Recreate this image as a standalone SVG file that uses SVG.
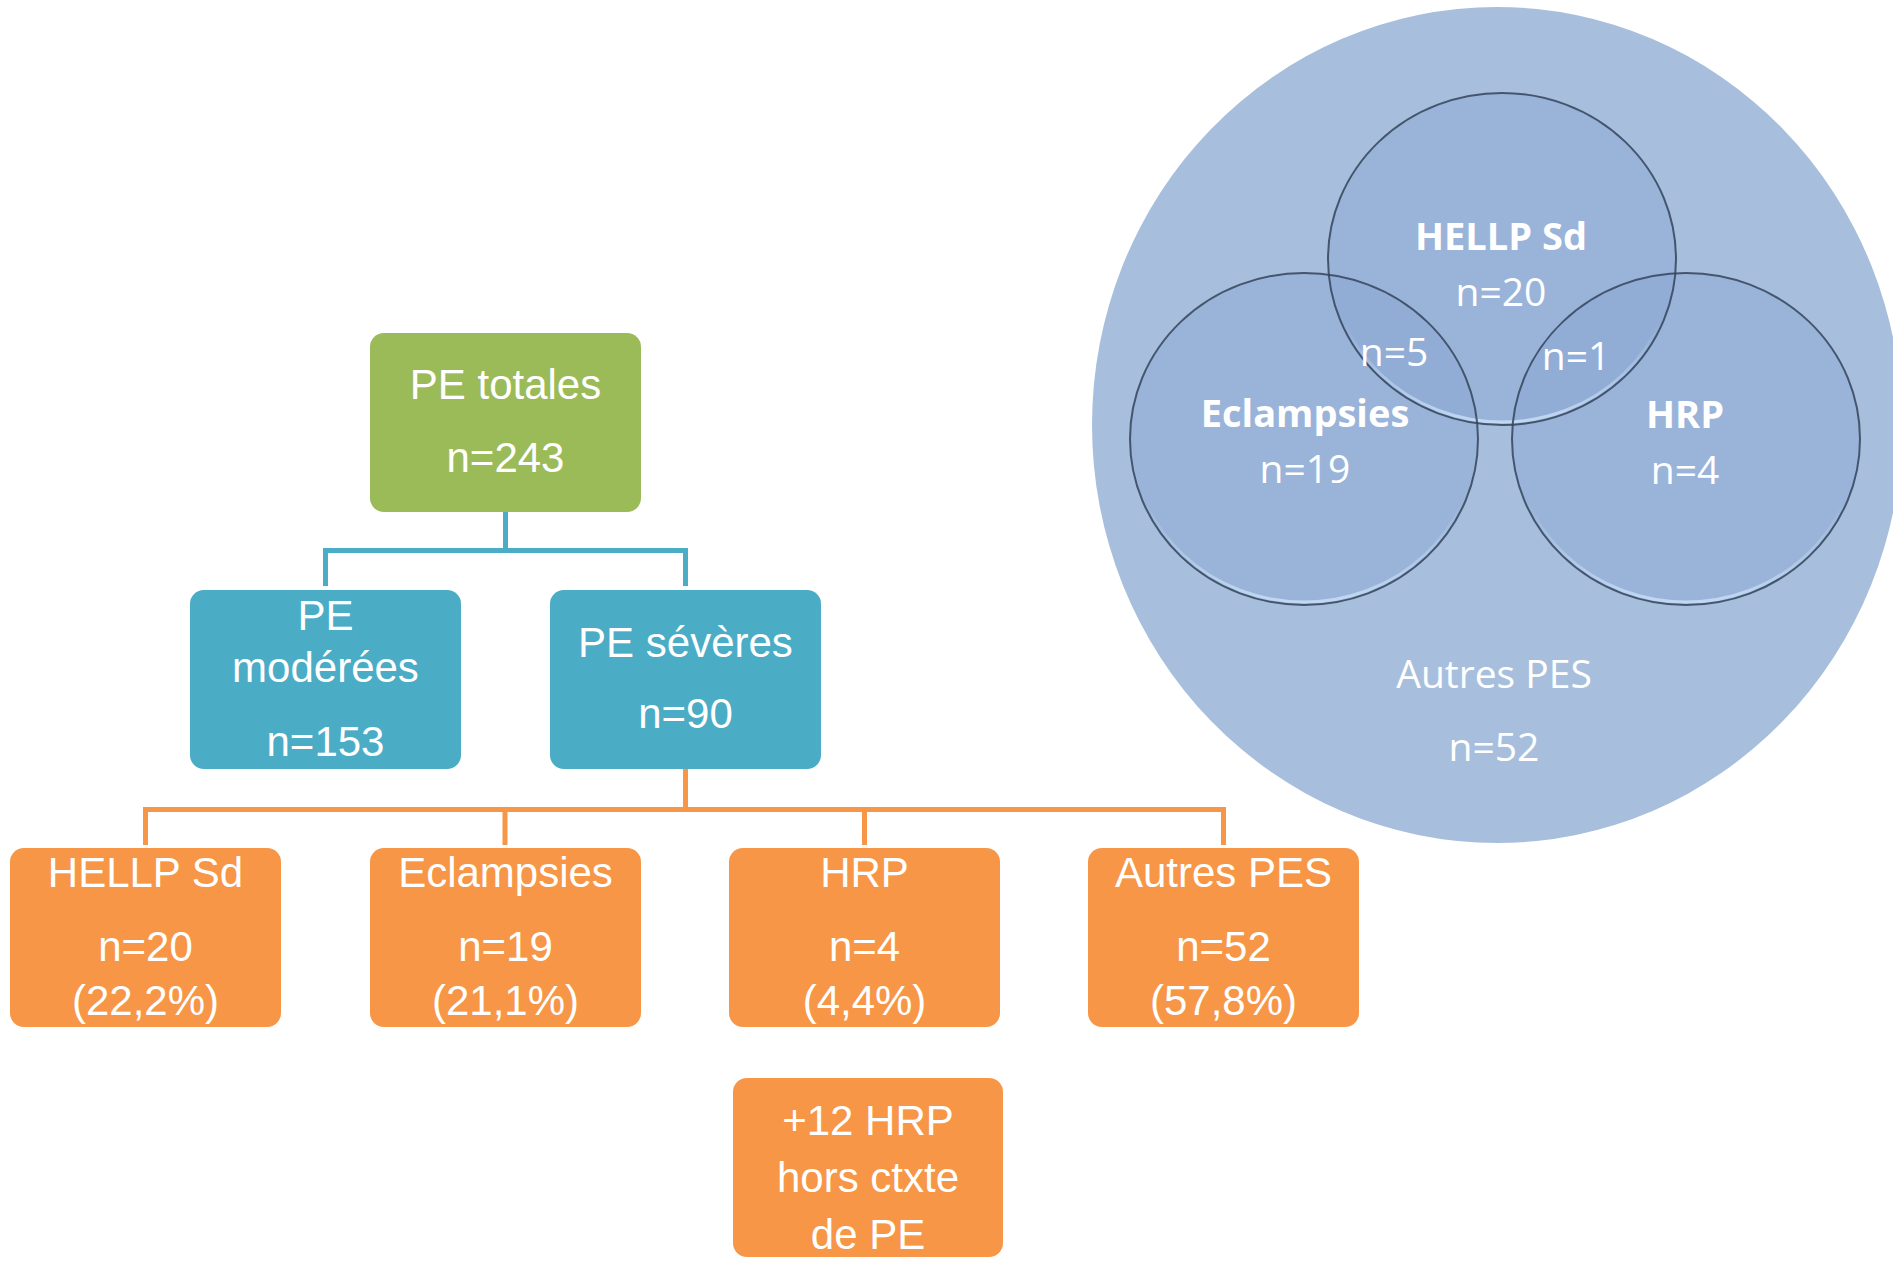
<svg xmlns="http://www.w3.org/2000/svg" width="1893" height="1261" viewBox="0 0 1893 1261">
<defs>
<style>
.t{font-family:"Liberation Sans",Arial,sans-serif;font-size:42px;fill:#fff;text-anchor:middle}
.v{font-family:"Open Sans","Noto Sans",sans-serif;font-size:39px;fill:#fff;text-anchor:middle}
.vb{font-family:"Open Sans","Noto Sans",sans-serif;font-size:38px;font-weight:bold;fill:#fff;text-anchor:middle}
.green{fill:#9BBB59}
.teal{fill:#4BACC6}
.orange{fill:#F79646}
.ct{fill:none;stroke:#4BACC6;stroke-width:5}
.co{fill:none;stroke:#F79646;stroke-width:5}
.sc{fill:#7FA0CF;fill-opacity:0.32}
.edge{fill:none;stroke:#34445A;stroke-width:2;stroke-opacity:0.85}
.hl{fill:none;stroke:url(#hlg);stroke-width:3}
</style>
<linearGradient id="hlg" x1="0" y1="0" x2="0" y2="1">
<stop offset="0" stop-color="#C6DCF5" stop-opacity="0"/>
<stop offset="0.7" stop-color="#C6DCF5" stop-opacity="0"/>
<stop offset="1" stop-color="#C6DCF5" stop-opacity="0.9"/>
</linearGradient>
</defs>
<rect width="1893" height="1261" fill="#fff"/>

<g id="venn">
<ellipse id="venn-outer" cx="1497" cy="425" rx="405" ry="418" fill="#A7BFDD"/>
<g id="venn-hellp">
<ellipse class="sc" cx="1502" cy="259" rx="174" ry="166"/>
</g>
<g id="venn-eclampsies">
<ellipse class="sc" cx="1304" cy="439" rx="174" ry="166"/>
</g>
<g id="venn-hrp">
<ellipse class="sc" cx="1686" cy="439" rx="174" ry="166"/>
</g>
<ellipse class="hl" cx="1502" cy="258" rx="172" ry="164"/>
<ellipse class="hl" cx="1304" cy="438" rx="172" ry="164"/>
<ellipse class="hl" cx="1686" cy="438" rx="172" ry="164"/>
<ellipse class="edge" cx="1502" cy="259" rx="174" ry="166"/>
<ellipse class="edge" cx="1304" cy="439" rx="174" ry="166"/>
<ellipse class="edge" cx="1686" cy="439" rx="174" ry="166"/>
<text class="vb" x="1501" y="250">HELLP Sd</text>
<text class="v" x="1501" y="306">n=20</text>
<text class="v" x="1394" y="366">n=5</text>
<text class="v" x="1576" y="370">n=1</text>
<text class="vb" x="1305" y="427">Eclampsies</text>
<text class="v" x="1305" y="483">n=19</text>
<text class="vb" x="1685" y="428">HRP</text>
<text class="v" x="1685" y="484">n=4</text>
<text class="v" x="1494" y="688">Autres PES</text>
<text class="v" x="1494" y="761">n=52</text>
</g>

<g id="connectors">
<path class="ct" d="M505.5 512 V550.5 M323 550.5 H688 M325.5 550.5 V586 M685.5 550.5 V586"/>
<path class="co" d="M685.5 769 V809.5 M143 809.5 H1226 M145.5 809.5 V845 M505 809.5 V845 M864.5 809.5 V845 M1223.5 809.5 V845"/>
</g>

<g id="pe-totales">
<rect class="green" x="370" y="333" width="271" height="179" rx="14"/>
<text class="t" x="505.5" y="399">PE totales</text>
<text class="t" x="505.5" y="472">n=243</text>
</g>
<g id="pe-moderees">
<rect class="teal" x="190" y="590" width="271" height="179" rx="14"/>
<text class="t" x="325.5" y="630">PE</text>
<text class="t" x="325.5" y="682">modérées</text>
<text class="t" x="325.5" y="756">n=153</text>
</g>
<g id="pe-severes">
<rect class="teal" x="550" y="590" width="271" height="179" rx="14"/>
<text class="t" x="685.5" y="657">PE sévères</text>
<text class="t" x="685.5" y="728">n=90</text>
</g>
<g id="hellp">
<rect class="orange" x="10" y="848" width="271" height="179" rx="14"/>
<text class="t" x="145.5" y="887">HELLP Sd</text>
<text class="t" x="145.5" y="961">n=20</text>
<text class="t" x="145.5" y="1015">(22,2%)</text>
</g>
<g id="eclampsies">
<rect class="orange" x="370" y="848" width="271" height="179" rx="14"/>
<text class="t" x="505.5" y="887">Eclampsies</text>
<text class="t" x="505.5" y="961">n=19</text>
<text class="t" x="505.5" y="1015">(21,1%)</text>
</g>
<g id="hrp">
<rect class="orange" x="729" y="848" width="271" height="179" rx="14"/>
<text class="t" x="864.5" y="887">HRP</text>
<text class="t" x="864.5" y="961">n=4</text>
<text class="t" x="864.5" y="1015">(4,4%)</text>
</g>
<g id="autres-pes">
<rect class="orange" x="1088" y="848" width="271" height="179" rx="14"/>
<text class="t" x="1223.5" y="887">Autres PES</text>
<text class="t" x="1223.5" y="961">n=52</text>
<text class="t" x="1223.5" y="1015">(57,8%)</text>
</g>
<g id="hrp-hors">
<rect class="orange" x="733" y="1078" width="270" height="179" rx="14"/>
<text class="t" x="868" y="1135">+12 HRP</text>
<text class="t" x="868" y="1192">hors ctxte</text>
<text class="t" x="868" y="1249">de PE</text>
</g>
</svg>
